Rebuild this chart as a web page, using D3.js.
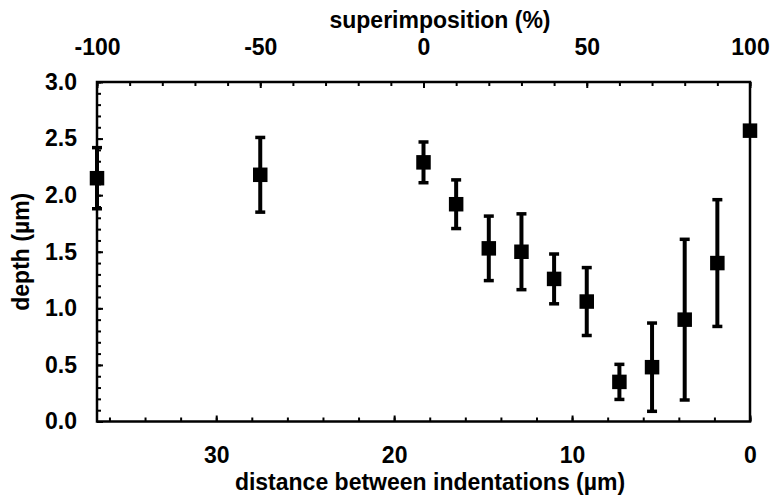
<!DOCTYPE html>
<html>
<head>
<meta charset="utf-8">
<script src="https://cdn.jsdelivr.net/npm/d3@7"></script>
<style>
  body { margin: 0; background: #fff; }
  svg { display: block; }
  text { font-family: "Liberation Sans", Arial, sans-serif; font-weight: bold; fill: #000; }
</style>
</head>
<body>
<div id="chart"></div>
<script>
// data
const superimposition = [-100, -50, 0, 10, 20, 30, 40, 50, 60, 70, 80, 90, 100];
const depth = [2.15, 2.18, 2.29, 1.92, 1.53, 1.50, 1.26, 1.06, 0.35, 0.48, 0.90, 1.40, 2.57];
const depthErr = [0.27, 0.33, 0.18, 0.215, 0.285, 0.335, 0.22, 0.30, 0.155, 0.39, 0.71, 0.56, 0];

// axes / tick labels
const topTicks = [-100, -50, 0, 50, 100];
const bottomTicks = [30, 20, 10, 0];
const yTicks = [0, 0.5, 1.0, 1.5, 2.0, 2.5, 3.0];
const distanceMax = 36.7; // distance (µm) at -100 % superimposition

var width = 771, height = 495;
var margin = {top: 82, right: 21, bottom: 73.5, left: 97};
var w = width - margin.left - margin.right,
    h = height - margin.top - margin.bottom;
var fs = 23;

var svg = d3.select("#chart").append("svg")
  .attr("width", width)
  .attr("height", height);
var g = svg.append("g")
  .attr("transform", "translate(" + margin.left + "," + margin.top + ")");

var x = d3.scaleLinear().domain([-100, 100]).range([0, w]);
var xd = d3.scaleLinear().domain([distanceMax, 0]).range([0, w]);
var y = d3.scaleLinear().domain([0, 3]).range([h, 0]);

var intFmt = d => String(d); // plain hyphen minus like the original

function style(sel) {
  sel.select(".domain").remove();
  sel.selectAll("line").attr("stroke", "#000").attr("stroke-width", 2);
  sel.attr("font-size", fs).attr("font-family", null);
}

// left: minor every 0.1, major every 0.5
g.append("g").call(d3.axisLeft(y).tickValues(d3.range(0, 3.01, 0.1)).tickSize(-4).tickFormat(""))
  .call(style);
g.append("g").call(d3.axisLeft(y).tickValues(yTicks).tickSize(-6).tickPadding(20).tickFormat(d3.format(".1f")))
  .call(style);

// top: superimposition
g.append("g").call(d3.axisTop(x).tickValues(d3.range(-100, 101, 10)).tickSize(-4).tickFormat(""))
  .call(style);
g.append("g").call(d3.axisTop(x).tickValues(topTicks).tickSize(-6).tickPadding(27).tickFormat(intFmt))
  .call(style);

// bottom: distance
g.append("g").attr("transform", "translate(0," + h + ")")
  .call(d3.axisBottom(xd).tickValues(d3.range(0, 36.5, 2)).tickSize(-4).tickFormat(""))
  .call(style);
g.append("g").attr("transform", "translate(0," + h + ")")
  .call(d3.axisBottom(xd).tickValues(bottomTicks).tickSize(-6).tickPadding(25).tickFormat(intFmt))
  .call(style);

// frame
g.append("rect")
  .attr("width", w).attr("height", h)
  .attr("fill", "none").attr("stroke", "#000").attr("stroke-width", 2.5);

var pts = superimposition.map((s, i) => ({s: s, d: depth[i], e: depthErr[i]}));

var eb = g.selectAll(".err").data(pts.filter(p => p.e > 0)).enter().append("g").attr("class", "err");
eb.append("line")
  .attr("x1", p => x(p.s)).attr("x2", p => x(p.s))
  .attr("y1", p => y(p.d + p.e)).attr("y2", p => y(p.d - p.e))
  .attr("stroke", "#000").attr("stroke-width", 4);
eb.selectAll(".cap").data(p => [[p.s, p.d + p.e], [p.s, p.d - p.e]]).enter().append("line")
  .attr("x1", c => x(c[0]) - 5).attr("x2", c => x(c[0]) + 5)
  .attr("y1", c => y(c[1])).attr("y2", c => y(c[1]))
  .attr("stroke", "#000").attr("stroke-width", 3.5);

var ms = 14.5;
g.selectAll(".pt").data(pts).enter().append("rect")
  .attr("class", "pt")
  .attr("x", p => x(p.s) - ms / 2)
  .attr("y", p => y(p.d) - ms / 2)
  .attr("width", ms).attr("height", ms)
  .attr("fill", "#000");

// axis titles
svg.append("text")
  .attr("x", 440).attr("y", 28)
  .attr("text-anchor", "middle").attr("font-size", fs)
  .text("superimposition (%)");
svg.append("text")
  .attr("x", 430).attr("y", 490)
  .attr("text-anchor", "middle").attr("font-size", fs)
  .text("distance between indentations (µm)");
svg.append("text")
  .attr("transform", "translate(29," + (margin.top + h / 2) + ")rotate(-90)")
  .attr("text-anchor", "middle").attr("font-size", fs)
  .text("depth (µm)");
</script>
</body>
</html>
